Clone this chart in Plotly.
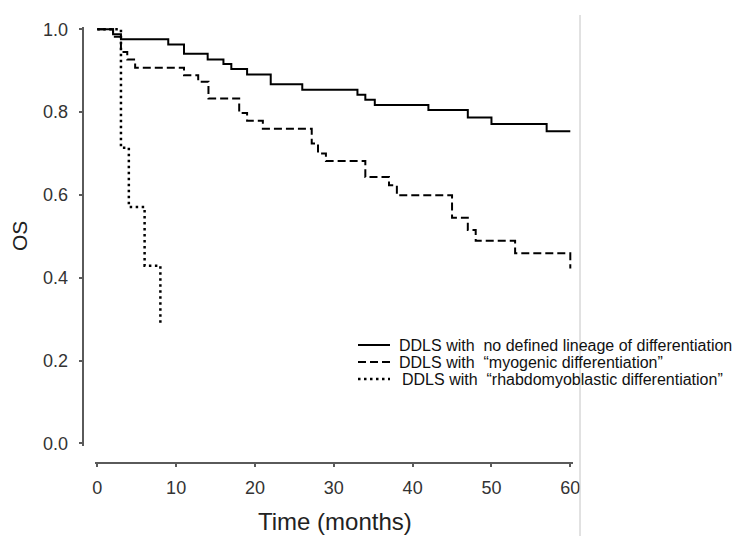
import plotly.graph_objects as go

# ---- data ----
t_none = [0, 2, 3, 9, 11, 14, 16, 17, 19, 22, 26, 33, 34, 35.2, 42, 47, 50, 57, 60]
s_none = [1.0, 0.988, 0.976, 0.963, 0.941, 0.927, 0.916, 0.904, 0.891, 0.867, 0.854,
          0.842, 0.830, 0.817, 0.805, 0.787, 0.771, 0.754, 0.754]

t_myo = [0, 2, 3, 3.8, 4.8, 11, 12.8, 14.1, 18, 19, 21, 27.2, 28, 29, 34, 37, 38,
         45, 47, 48, 53, 60]
s_myo = [1.0, 0.982, 0.945, 0.927, 0.907, 0.889, 0.873, 0.833, 0.798, 0.779, 0.760,
         0.724, 0.700, 0.682, 0.643, 0.623, 0.599, 0.545, 0.515, 0.489, 0.459, 0.422]

t_rhab = [0, 3, 4, 6, 8]
s_rhab = [1.0, 0.714, 0.571, 0.429, 0.286]

series_names = [
    "DDLS with\u00a0 no defined lineage of differentiation",
    "DDLS with\u00a0 \u201cmyogenic differentiation\u201d",
    "DDLS with\u00a0 \u201crhabdomyoblastic differentiation\u201d",
]
x_ticks = [0, 10, 20, 30, 40, 50, 60]
y_ticks = [0.0, 0.2, 0.4, 0.6, 0.8, 1.0]

# ---- layout helpers (pixel -> paper) ----
W, H = 749, 536
ML, MR, MT, MB = 80, 169, 20, 66
PW, PH = W - ML - MR, H - MT - MB


def px(x):
    return (x - ML) / PW


def py(y):
    return (H - MB - y) / PH


FONT = "Liberation Sans, Arial, sans-serif"
AXC = "#5a5a5a"

fig = go.Figure()
styles = [
    dict(color="black", width=2),
    dict(color="black", width=2, dash="8px,4px"),
    dict(color="black", width=2.5, dash="2.5px,3.5px"),
]
for (tx, sy), name, st in zip([(t_none, s_none), (t_myo, s_myo), (t_rhab, s_rhab)],
                              series_names, styles):
    fig.add_trace(go.Scatter(x=tx, y=sy, mode="lines", line=dict(shape="hv", **st),
                             name=name, showlegend=False, hoverinfo="skip"))

fig.update_layout(
    width=W, height=H,
    margin=dict(l=ML, r=MR, t=MT, b=MB),
    paper_bgcolor="white", plot_bgcolor="white",
    font=dict(family=FONT, color="#333333"),
    xaxis=dict(
        range=[-0.3, 60.3], domain=[px(94.94), px(572.66)],
        anchor="free", position=py(462.5),
        showgrid=False, zeroline=False, showline=True, linecolor=AXC, linewidth=1.5,
        ticks="outside", ticklen=4, tickwidth=1.5, tickcolor=AXC,
        tickvals=x_ticks, ticktext=[str(v) for v in x_ticks],
        tickfont=dict(size=18, color="#333333"),
        ticklabelstandoff=5,
    ),
    yaxis=dict(
        range=[-0.006, 1.006], domain=[py(445.8), py(26.8)],
        anchor="free", position=px(83.3),
        showgrid=False, zeroline=False, showline=True, linecolor=AXC, linewidth=1.5,
        ticks="outside", ticklen=4, tickwidth=1.5, tickcolor=AXC,
        tickvals=y_ticks, ticktext=[f"{v:.1f}" for v in y_ticks],
        tickfont=dict(size=18, color="#333333"),
        ticklabelstandoff=7,
    ),
)

annotations = [
    dict(text="Time (months)", x=px(335), y=py(521), xref="paper", yref="paper",
         xanchor="center", yanchor="middle", showarrow=False,
         font=dict(size=24, color="#222222", family=FONT)),
    dict(text="OS", x=px(19), y=py(236), xref="paper", yref="paper", textangle=-90,
         xanchor="center", yanchor="middle", showarrow=False,
         font=dict(size=21, color="#222222", family=FONT)),
]
leg_rows = [345, 362, 379]
leg_x = [397, 397, 400]
shapes = []
for name, st, ry, lx in zip(series_names, styles, leg_rows, leg_x):
    annotations.append(dict(text=name, x=px(lx), y=py(ry), xref="paper", yref="paper",
                            xanchor="left", yanchor="middle", showarrow=False,
                            font=dict(size=16, color="#111111", family=FONT)))
    shapes.append(dict(type="line", xref="paper", yref="paper",
                       x0=px(358), x1=px(390), y0=py(ry), y1=py(ry),
                       line=dict(**st)))
# thin grey frame edge at right
shapes.append(dict(type="line", xref="paper", yref="paper", x0=px(580), x1=px(580),
                   y0=py(15), y1=py(536), line=dict(color="#c4c4c4", width=1)))

fig.update_layout(annotations=annotations, shapes=shapes)
fig.write_html("out.html")
